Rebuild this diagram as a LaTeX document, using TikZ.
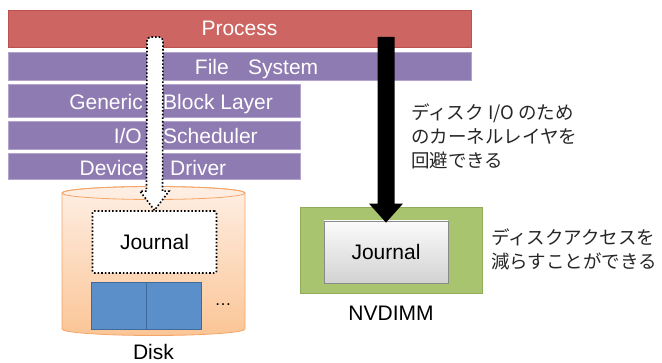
\documentclass[tikz,border=0pt]{standalone}
\usepackage{fontspec}
\setmainfont{Liberation Sans}
\newfontfamily\jpfont{Noto Sans CJK JP}
\usepackage{tikz}
\usepackage{xcolor}
\definecolor{layerProcess}{HTML}{CD6662}
\definecolor{layerProcessEdge}{HTML}{BC514D}
\definecolor{layerKernel}{HTML}{8E7BB2}
\definecolor{layerKernelEdge}{HTML}{B3A3CD}
\definecolor{diskTop}{HTML}{FEEFE4}
\definecolor{diskBottom}{HTML}{FBC596}
\definecolor{diskEdge}{HTML}{F5A468}
\definecolor{blockFill}{HTML}{5B8FC9}
\definecolor{blockEdge}{HTML}{3E6B9B}
\definecolor{nvdimmFill}{HTML}{A8C46E}
\definecolor{nvdimmEdge}{HTML}{8FAD58}
\definecolor{journalTop}{HTML}{FBFBFB}
\definecolor{journalBottom}{HTML}{D2D2D2}
\definecolor{journalEdge}{HTML}{8A8A8A}
\usetikzlibrary{calc}

\begin{document}
\begin{tikzpicture}[x=1pt, y=-1pt,
  layer/.style={draw=layerKernelEdge, line width=0.8pt, fill=layerKernel, inner sep=0pt},
  word/.style={text=white, font=\fontsize{21}{25}\selectfont, inner sep=0pt},
  devname/.style={font=\fontsize{21}{25}\selectfont, inner sep=0pt},
  note/.style={font=\jpfont\fontsize{18.5}{24}\selectfont, align=left, inner sep=0pt, text=black!85},
  jrnl/.style={minimum width=124, minimum height=62, font=\fontsize{21}{25}\selectfont},
  blk/.style={draw=blockEdge, fill=blockFill, line width=0.8pt, minimum width=55, minimum height=47}]
  \useasboundingbox (0,0) rectangle (662,363);

  \node[layer, fill=layerProcess, draw=layerProcessEdge, minimum width=463, minimum height=37, text=white, font=\fontsize{21}{25}\selectfont] (proc) at (239.5,28.5) {Process};
  \node[layer, minimum width=463, minimum height=28] (fs) at (239.5,66) {};
  \node[layer, minimum width=292, minimum height=33] (gbl) at (154,100.5) {};
  \node[layer, minimum width=292, minimum height=28] (ios) at (154,135) {};
  \node[layer, minimum width=292, minimum height=26] (dd) at (154,166) {};

  \node[word, anchor=base east] (fsL) at (229,75) {File};
  \node[word, anchor=base west] (fsR) at (248,75) {System};
  \node[word, anchor=base east] (gblL) at (143,110) {Generic};
  \node[word, anchor=base west] (gblR) at (163,110) {Block Layer};
  \node[word, anchor=base east] (iosL) at (142,144) {I/O};
  \node[word, anchor=base west] (iosR) at (163,144) {Scheduler};
  \node[word, anchor=base east] (ddL) at (144,176) {Device};
  \node[word, anchor=base west] (ddR) at (170,176) {Driver};

  \draw[top color=diskTop, bottom color=diskBottom, draw=diskEdge, line width=0.8pt]
    (62,193) -- (62,329) arc[start angle=180, end angle=0, x radius=91.5, y radius=6.5]
    -- (245,193) arc[start angle=0, end angle=-180, x radius=91.5, y radius=6.5] -- cycle;
  \draw[diskEdge, line width=0.8pt] (153.5,193) ellipse[x radius=91.5, y radius=6.5];

  \node[jrnl, draw, dotted, line width=1.6pt, fill=white, rounded corners=2pt] (djrnl) at (154.5,242) {Journal};
  \node[blk] (blkA) at (118.5,305.5) {};
  \node[blk] (blkB) at (173.5,305.5) {};
  \node[devname, font=\fontsize{17}{20}\selectfont] (more) at (223,305) {…};
  \node[devname, anchor=base] (disk) at (153.5,360) {Disk};

  \node[draw=nvdimmEdge, fill=nvdimmFill, line width=0.8pt, minimum width=182, minimum height=86] (nvd) at (391,250) {};
  \node[jrnl, draw=journalEdge, line width=0.8pt, top color=journalTop, bottom color=journalBottom] (njrnl) at (386,252) {Journal};
  \node[devname] (nvdName) at (391,313) {NVDIMM};

  \coordinate (hTop) at (155,37);
  \coordinate (hTip) at (djrnl.north);
  \draw[dotted, line width=1.6pt, fill=white]
    (hTip) -- ($(hTip)+(-14.5,-19)$) -- ($(hTip)+(-8,-19)$) -- ($(hTop)+(-8,4)$)
    arc[start angle=180, end angle=270, radius=4] -- ($(hTop)+(4,0)$)
    arc[start angle=270, end angle=360, radius=4]
    -- ($(hTip)+(8,-19)$) -- ($(hTip)+(14.5,-19)$) -- cycle;

  \coordinate (bTop) at (386,37);
  \coordinate (bTip) at ($(njrnl.north)+(0,2)$);
  \fill[black] ($(bTop)+(-8.5,0)$) -- ($(bTip)+(-8.5,-19)$) -- ($(bTip)+(-17,-19)$) -- (bTip)
    -- ($(bTip)+(17,-19)$) -- ($(bTip)+(8.5,-19)$) -- ($(bTop)+(8.5,0)$) -- cycle;

  \node[note, anchor=west] (bypass) at (411,136) {ディスク I/O のため\\のカーネルレイヤを\\回避できる};
  \node[note, anchor=west] (fewer) at (491,249) {ディスクアクセスを\\減らすことができる};
\end{tikzpicture}
\end{document}
